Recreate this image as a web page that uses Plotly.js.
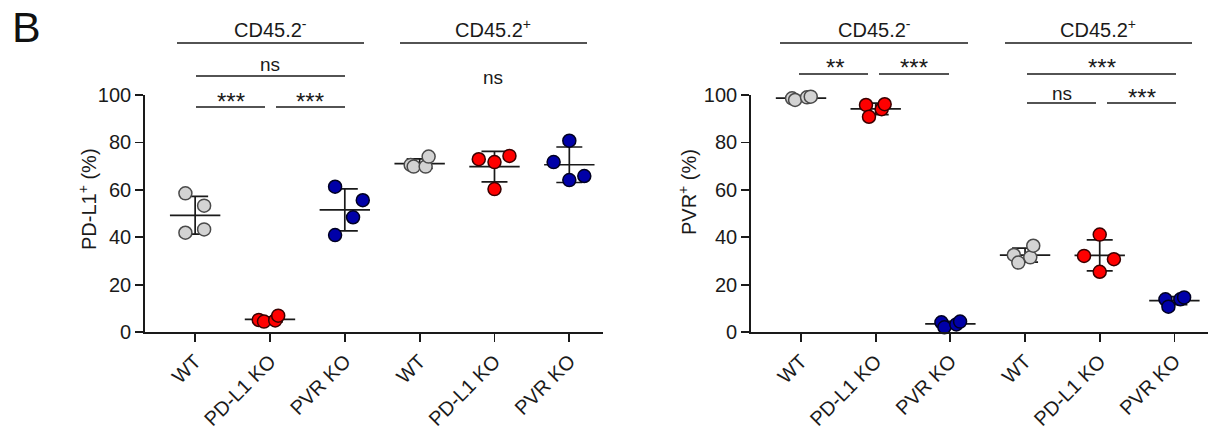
<!DOCTYPE html>
<html>
<head>
<meta charset="utf-8">
<script src="https://cdn.plot.ly/plotly-3.0.1.min.js"></script>
<style>html,body{margin:0;padding:0;background:#fff;}#chart{width:1216px;height:429px;}</style>
</head>
<body>
<div id="chart"></div>
<script>
// ---------- DATA ----------
const categories = ['WT', 'PD-L1 KO', 'PVR KO', 'WT', 'PD-L1 KO', 'PVR KO'];
const tickValues = [0, 1, 2, 3, 4, 5];

// Panel 1: PD-L1+ (%)
const pdl1_neg_WT   = [58.5, 53.3, 41.9, 43.3];
const pdl1_neg_PDL1 = [5.1, 4.4, 4.9, 6.9];
const pdl1_neg_PVR  = [61.3, 55.6, 48.4, 40.9];
const pdl1_pos_WT   = [70.5, 69.8, 69.8, 74.0];
const pdl1_pos_PDL1 = [72.9, 71.7, 74.3, 60.3];
const pdl1_pos_PVR  = [80.7, 71.7, 64.1, 65.8];

// Panel 2: PVR+ (%)
const pvr_neg_WT   = [98.6, 97.9, 99.0, 99.3];
const pvr_neg_PDL1 = [95.8, 90.8, 94.0, 96.1];
const pvr_neg_PVR  = [4.1, 2.0, 3.2, 4.4];
const pvr_pos_WT   = [32.5, 29.3, 31.5, 36.4];
const pvr_pos_PDL1 = [41.1, 32.1, 30.7, 25.4];
const pvr_pos_PVR  = [13.8, 10.7, 13.8, 14.6];

// horizontal scatter of points within a group (category units)
const jitter = {
  p1: [[-0.13, 0.12, -0.13, 0.12], [-0.15, -0.08, 0.07, 0.11], [-0.13, 0.24, 0.11, -0.13],
       [-0.12, -0.08, 0.08, 0.12], [-0.21, 0, 0.2, 0], [0, -0.21, 0, 0.2]],
  p2: [[-0.12, -0.08, 0.08, 0.13], [-0.13, -0.09, 0.08, 0.12], [-0.12, -0.08, 0.08, 0.13],
       [-0.15, -0.09, 0.07, 0.11], [0, -0.21, 0.19, 0], [-0.12, -0.08, 0.08, 0.13]]
};

// ---------- STYLE ----------
const W = 1216, H = 429;
const FONT = 'Liberation Sans, Arial, sans-serif';
const INK = '#1a1a1a';
const groupStyle = [
  {fill: '#d3d3d3', edge: '#4a4a4a'},
  {fill: '#ff0000', edge: '#3a0000'},
  {fill: '#0000a8', edge: '#000022'}
];
const px = v => v / W;
const py = v => 1 - v / H;

function mean(a) { return a.reduce((s, v) => s + v, 0) / a.length; }
function sd(a) { const m = mean(a); return Math.sqrt(a.reduce((s, v) => s + (v - m) * (v - m), 0) / (a.length - 1)); }

const traces = [];
function addPanel(groups, jit, xa, ya) {
  // summary: mean line + SD error bars
  traces.push({
    type: 'scatter', mode: 'markers', xaxis: xa, yaxis: ya, cliponaxis: false, showlegend: false, hoverinfo: 'skip',
    x: tickValues, y: groups.map(mean),
    marker: {symbol: 'line-ew', size: 36, color: INK, line: {color: INK, width: 1.7}},
    error_y: {type: 'data', array: groups.map(sd), visible: true, width: 13, thickness: 1.7, color: INK}
  });
  groups.forEach((g, i) => {
    const st = groupStyle[i % 3];
    traces.push({
      type: 'scatter', mode: 'markers', xaxis: xa, yaxis: ya, cliponaxis: false, showlegend: false,
      x: g.map((v, k) => tickValues[i] + jit[i][k]), y: g,
      marker: {symbol: 'circle', size: 13, color: st.fill, line: {color: st.edge, width: 1.5}}
    });
  });
}
addPanel([pdl1_neg_WT, pdl1_neg_PDL1, pdl1_neg_PVR, pdl1_pos_WT, pdl1_pos_PDL1, pdl1_pos_PVR], jitter.p1, 'x', 'y');
addPanel([pvr_neg_WT, pvr_neg_PDL1, pvr_neg_PVR, pvr_pos_WT, pvr_pos_PDL1, pvr_pos_PVR], jitter.p2, 'x2', 'y2');

const yDomain = [py(332), py(95)];
function xAxis(d0, d1, anchor) {
  return {
    domain: [px(d0), px(d1)], anchor: anchor, range: [-0.67, 5.45],
    tickmode: 'array', tickvals: tickValues, ticktext: categories, tickangle: -45,
    showline: true, linecolor: INK, linewidth: 1.8, ticks: 'outside', ticklen: 8, tickwidth: 1.8, tickcolor: INK,
    showgrid: false, zeroline: false, tickfont: {family: FONT, size: 20, color: INK}, fixedrange: true
  };
}
function yAxis(anchor) {
  return {
    domain: yDomain, anchor: anchor, range: [0, 100], tickvals: [0, 20, 40, 60, 80, 100],
    showline: true, linecolor: INK, linewidth: 1.8, ticks: 'outside', ticklen: 8, tickwidth: 1.8, tickcolor: INK,
    showgrid: false, zeroline: false, tickfont: {family: FONT, size: 20, color: INK}, fixedrange: true
  };
}

const shapes = [];
const annotations = [];
function hline(x0, x1, y) {
  shapes.push({type: 'line', xref: 'paper', yref: 'paper', x0: px(x0), x1: px(x1), y0: py(y), y1: py(y),
               line: {color: INK, width: 1.6}});
}
function label(text, x, y, size) {
  annotations.push({text: text, xref: 'paper', yref: 'paper', x: px(x), y: py(y), xanchor: 'center', yanchor: 'middle',
                    showarrow: false, font: {family: FONT, size: size || 20, color: INK}});
}

// panel letter
annotations.push({text: 'B', xref: 'paper', yref: 'paper', x: px(26), y: py(27), xanchor: 'center', yanchor: 'middle',
                  showarrow: false, font: {family: FONT, size: 43, color: '#111'}});
// y titles
annotations.push({text: 'PD-L1<sup>+</sup> (%)', xref: 'paper', yref: 'paper', x: px(88), y: py(199), textangle: -90,
                  xanchor: 'center', yanchor: 'middle', showarrow: false, font: {family: FONT, size: 20, color: INK}});
annotations.push({text: 'PVR<sup>+</sup> (%)', xref: 'paper', yref: 'paper', x: px(688), y: py(192), textangle: -90,
                  xanchor: 'center', yanchor: 'middle', showarrow: false, font: {family: FONT, size: 20, color: INK}});

// panel 1 brackets
label('CD45.2<sup>-</sup>', 270, 28); hline(177, 364, 43);
label('ns', 270, 65, 19); hline(196, 345, 76);
label('***', 231, 101, 24); hline(196, 265, 107);
label('***', 310, 101, 24); hline(276, 345, 107);
label('CD45.2<sup>+</sup>', 493, 28); hline(400, 587, 43);
label('ns', 493, 77, 19);

// panel 2 brackets
label('CD45.2<sup>-</sup>', 874, 28); hline(780, 968, 43);
label('**', 835, 68, 24); hline(799, 868, 74);
label('***', 914, 68, 24); hline(879, 949, 74);
label('CD45.2<sup>+</sup>', 1098, 28); hline(1005, 1192, 43);
label('***', 1102, 68, 24); hline(1027, 1176, 74);
label('ns', 1062, 93, 19); hline(1027, 1096, 103);
label('***', 1142, 97, 24); hline(1107, 1176, 103);

const layout = {
  width: W, height: H, margin: {l: 0, r: 0, t: 0, b: 0},
  paper_bgcolor: '#fff', plot_bgcolor: '#fff', showlegend: false,
  xaxis: xAxis(145, 603, 'y'), yaxis: yAxis('x'),
  xaxis2: xAxis(751, 1208, 'y2'), yaxis2: yAxis('x2'),
  shapes: shapes, annotations: annotations
};

Plotly.newPlot('chart', traces, layout, {displayModeBar: false, staticPlot: true});
</script>
</body>
</html>
